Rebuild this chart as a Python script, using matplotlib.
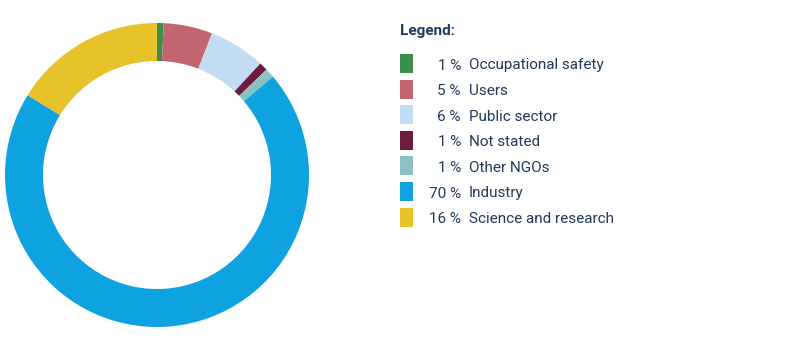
import matplotlib
matplotlib.use("Agg")
import matplotlib.pyplot as plt
from matplotlib.patches import Rectangle

categories = ["Occupational safety", "Users", "Public sector", "Not stated",
              "Other NGOs", "Industry", "Science and research"]
values = [0.7, 5.2, 6.0, 0.9, 1.0, 70.0, 16.2]
pct_labels = ["1 %", "5 %", "6 %", "1 %", "1 %", "70 %", "16 %"]
colors = ["#3a8f4a", "#c4666f", "#c2dcf3", "#6b1c3f", "#8cc1c3", "#0ea2e0", "#e8c22a"]

W, H = 801, 351
fig = plt.figure(figsize=(W / 100, H / 100), dpi=100)
text_color = "#1f3a5a"
font = "Roboto"

ax = fig.add_axes([5 / W, 24 / H, 304 / W, 304 / H])
ax.pie(values, colors=colors, startangle=90, counterclock=False,
       wedgeprops=dict(width=0.25, linewidth=0))
ax.set_xlim(-1, 1)
ax.set_ylim(-1, 1)
ax.set_aspect("equal")
ax.axis("off")

fig.text(400 / W, 1 - 31 / H, "Legend:", color=text_color, fontsize=11,
         fontweight="bold", family=font, va="center", ha="left")

y0 = 63.5
dy = 25.6
for i, (cat, pct, col) in enumerate(zip(categories, pct_labels, colors)):
    yc = y0 + i * dy
    fig.patches.append(Rectangle((400 / W, 1 - (yc + 9.5) / H), 13 / W, 19 / H,
                                 transform=fig.transFigure, facecolor=col,
                                 edgecolor="none"))
    fig.text(461 / W, 1 - (yc + 2) / H, pct, color=text_color, fontsize=11,
             family=font, va="center", ha="right")
    fig.text(469 / W, 1 - (yc + 2) / H, cat, color=text_color, fontsize=11,
             family=font, va="center", ha="left")

fig.savefig("out.png", dpi=100)
